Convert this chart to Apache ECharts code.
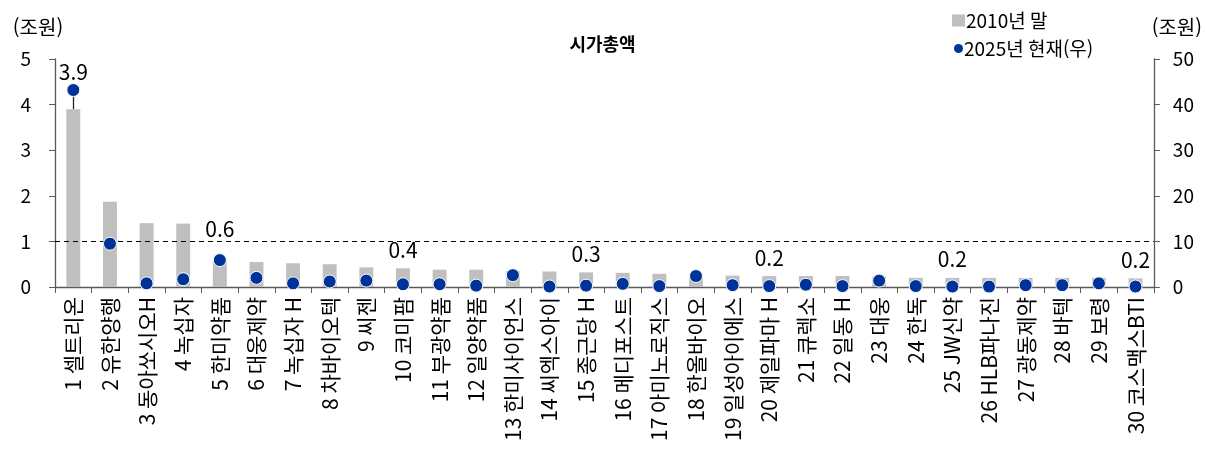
<!DOCTYPE html>
<html lang="ko">
<head>
<meta charset="utf-8">
<title>시가총액</title>
<script src="https://cdn.jsdelivr.net/npm/echarts@6/dist/echarts.min.js"></script>
<style>
  html, body { margin: 0; padding: 0; background: #fff; }
  #chart { width: 1205px; height: 452px; }
</style>
</head>
<body>
<div id="chart"></div>
<script>
// 제약·바이오 상위 30개사 시가총액: 2010년 말(좌, 조원) vs 2025년 현재(우, 조원)
const categories = [
  '1 셀트리온', '2 유한양행', '3 동아쏘시오H', '4 녹십자', '5 한미약품',
  '6 대웅제약', '7 녹십자 H', '8 차바이오텍', '9 씨젠', '10 코미팜',
  '11 부광약품', '12 일양약품', '13 한미사이언스', '14 씨엑스아이', '15 종근당 H',
  '16 메디포스트', '17 아미노로직스', '18 한올바이오', '19 일성아이에스', '20 제일파마 H',
  '21 큐렉소', '22 일동 H', '23 대웅', '24 한독', '25 JW신약',
  '26 HLB파나진', '27 광동제약', '28 바텍', '29 보령', '30 코스맥스BTI'
];
const cap2010 = [
  3.9, 1.87, 1.40, 1.39, 0.6,
  0.55, 0.52, 0.50, 0.43, 0.41,
  0.38, 0.38, 0.35, 0.34, 0.32,
  0.31, 0.29, 0.27, 0.25, 0.24,
  0.24, 0.24, 0.23, 0.2, 0.2,
  0.2, 0.2, 0.2, 0.2, 0.19
];
const cap2025 = [
  43.2, 9.5, 0.8, 1.7, 5.9,
  2.0, 0.8, 1.2, 1.4, 0.6,
  0.6, 0.3, 2.6, 0.1, 0.3,
  0.7, 0.2, 2.4, 0.4, 0.2,
  0.5, 0.2, 1.4, 0.2, 0.1,
  0.1, 0.4, 0.4, 0.8, 0.1
];
const leftTicks = [0, 1, 2, 3, 4, 5];
const rightTicks = [0, 10, 20, 30, 40, 50];
const refLine = 1;                       // 1조원 기준선
const labeledIdx = [0, 4, 9, 14, 19, 24, 29];

const FONT = '"Noto Sans CJK KR", "Noto Sans", sans-serif';
const AXIS_COLOR = '#595959';
const BAR_COLOR = '#BFBFBF';
const DOT_COLOR = '#003399';

// 라벨이 점과 겹치지 않도록 항목별 간격 조정
const labelGap = { 0: 27, 4: 20 };

const barData = cap2010.map((v, i) => {
  if (!labeledIdx.includes(i)) return { value: v, label: { show: false } };
  return {
    value: v,
    label: {
      show: true,
      position: 'top',
      distance: labelGap[i] !== undefined ? labelGap[i] : 8,
      formatter: p => p.value.toFixed(1)
    }
  };
});

const legendText = { fontFamily: FONT, fontSize: 19, color: '#000', padding: [0, 0, 0, -4] };

const chart = echarts.init(document.getElementById('chart'), null, { renderer: 'canvas' });

chart.setOption({
  animation: false,
  textStyle: { fontFamily: FONT },
  title: {
    text: '시가총액',
    left: 'center',
    top: 30,
    textStyle: { fontFamily: FONT, fontSize: 18, fontWeight: 'bold', color: '#000' }
  },
  legend: [
    {
      left: 947,
      top: 6,
      itemWidth: 13,
      itemHeight: 12,
      textStyle: legendText,
      data: [{ name: '2010년 말', icon: 'rect', itemStyle: { color: BAR_COLOR } }]
    },
    {
      left: 949,
      top: 34,
      itemWidth: 9,
      itemHeight: 9,
      textStyle: legendText,
      data: [{ name: '2025년 현재(우)', icon: 'circle', itemStyle: { color: DOT_COLOR, borderWidth: 0 } }]
    }
  ],
  grid: { left: 55, right: 46, top: 59, bottom: 165, containLabel: false },
  xAxis: {
    type: 'category',
    data: categories,
    boundaryGap: true,
    axisLine: { lineStyle: { color: AXIS_COLOR, width: 1.3 } },
    axisTick: { show: true, alignWithLabel: false, length: 6, lineStyle: { color: AXIS_COLOR } },
    axisLabel: {
      interval: 0,
      rotate: 90,
      margin: 10,
      color: '#000',
      fontFamily: FONT,
      fontSize: 21
    }
  },
  yAxis: [
    {
      type: 'value',
      min: leftTicks[0],
      max: leftTicks[leftTicks.length - 1],
      interval: 1,
      name: '(조원)',
      nameLocation: 'end',
      nameGap: 22,
      nameTextStyle: { fontFamily: FONT, fontSize: 20, color: '#000', align: 'center', padding: [0, 0, 0, -34] },
      axisLine: { show: true, lineStyle: { color: AXIS_COLOR, width: 1.3 } },
      axisTick: { show: true, length: 6, lineStyle: { color: AXIS_COLOR } },
      axisLabel: { color: '#000', fontFamily: FONT, fontSize: 19, margin: 24 },
      splitLine: { show: false }
    },
    {
      type: 'value',
      min: rightTicks[0],
      max: rightTicks[rightTicks.length - 1],
      interval: 10,
      name: '(조원)',
      nameLocation: 'end',
      nameGap: 22,
      nameTextStyle: { fontFamily: FONT, fontSize: 20, color: '#000', align: 'center', padding: [0, 0, 0, 46] },
      axisLine: { show: true, lineStyle: { color: AXIS_COLOR, width: 1.3 } },
      axisTick: { show: true, length: 6, lineStyle: { color: AXIS_COLOR } },
      axisLabel: { color: '#000', fontFamily: FONT, fontSize: 19, margin: 19 },
      splitLine: { show: false }
    }
  ],
  series: [
    {
      name: '2010년 말',
      type: 'bar',
      yAxisIndex: 0,
      data: barData,
      barWidth: '38%',
      itemStyle: { color: BAR_COLOR },
      label: { color: '#000', fontFamily: FONT, fontSize: 21 },
      z: 2,
      markLine: {
        silent: true,
        symbol: 'none',
        animation: false,
        label: { show: false },
        data: [
          // 1조원 기준선
          { yAxis: refLine, lineStyle: { type: [5, 4], color: '#000', width: 1.2 } },
          // 셀트리온 막대와 2025년 값 연결선
          [
            { coord: [0, cap2010[0]], lineStyle: { type: 'solid', color: '#222', width: 1.3 } },
            { coord: [0, cap2025[0] / 10] }
          ]
        ]
      }
    },
    {
      name: '2025년 현재(우)',
      type: 'scatter',
      yAxisIndex: 1,
      data: cap2025,
      symbol: 'circle',
      symbolSize: 13,
      itemStyle: { color: DOT_COLOR, opacity: 1, borderColor: '#fff', borderWidth: 1 },
      z: 5
    }
  ]
});
</script>
</body>
</html>
